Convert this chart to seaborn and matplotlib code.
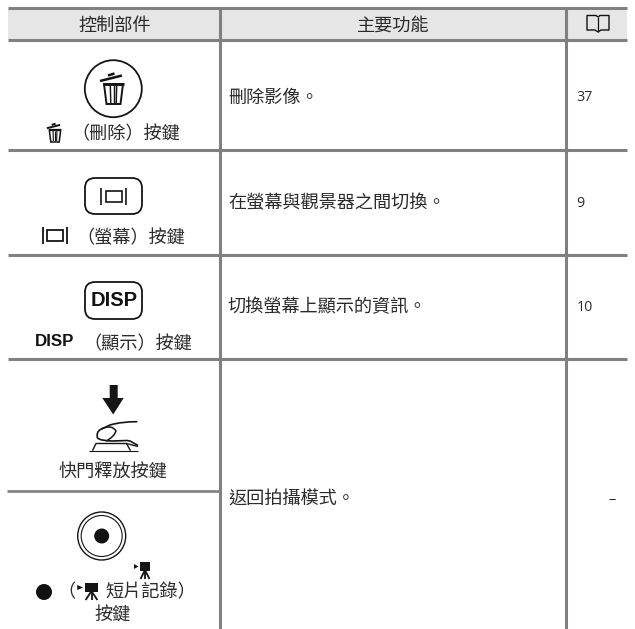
import matplotlib
matplotlib.use("Agg")
import matplotlib.pyplot as plt
from matplotlib.patches import Circle, FancyBboxPatch, Polygon, Rectangle, PathPatch
from matplotlib.path import Path
import numpy as np
import pandas as pd
import seaborn as sns

sns.set_theme(style="white")
plt.rcParams['font.family'] = ['Noto Sans CJK TC', 'DejaVu Sans']

# ---- content ----
headers = ["控制部件", "主要功能"]
control_labels = ["（刪除）按鍵", "（螢幕）按鍵", "（顯示）按鍵", "快門釋放按鍵", "短片記錄）", "按鍵"]
functions = ["刪除影像。", "在螢幕與觀景器之間切換。", "切換螢幕上顯示的資訊。", "返回拍攝模式。"]
pages = ["37", "9", "10", "–"]

# ---- layout ----
W, H = 635, 629
L, C1, C2, R = 8, 219.5, 566, 627
TOP, HEAD = 8, 40
ROWS = [150, 255, 359]
SUB = 490.5
GRAY = "#808080"
INK = "#151515"
TXT = "#2b2b2b"
FS = 13.1

fig = plt.figure(figsize=(W / 100, H / 100), dpi=100, facecolor="white")
ax = fig.add_axes([0, 0, 1, 1])
ax.set_xlim(0, W)
ax.set_ylim(H, 0)
ax.axis("off")

ax.add_patch(Rectangle((L, TOP), R - L, HEAD - TOP, fc="#e6e6e6", ec="none", zorder=0))

rules = []
for i, (x0, y0, x1, y1) in enumerate(
    [(L, TOP, R, TOP), (L, HEAD, R, HEAD)] + [(L, y, R, y) for y in ROWS]
    + [(C1, TOP, C1, H), (C2, TOP, C2, H)]):
    rules += [dict(u=i, x=x0, y=y0), dict(u=i, x=x1, y=y1)]
sns.lineplot(data=pd.DataFrame(rules), x="x", y="y", units="u", estimator=None, sort=False,
             color=GRAY, lw=2.2, legend=False, ax=ax, solid_capstyle="butt")
sns.lineplot(x=[7, C1], y=[SUB, SUB], color=GRAY, lw=1.9, legend=False, ax=ax, errorbar=None,
             solid_capstyle="butt")
ax.set_xlim(0, W)
ax.set_ylim(H, 0)
ax.axis("off")


def txt(x, y, s, ha="center", fs=FS, dy=3, **kw):
    kw.setdefault("color", TXT)
    kw.setdefault("fontweight", "light")
    ax.text(x, y + dy, s, ha=ha, va="center", fontsize=fs, **kw)


def line(xs, ys, lw=1.1, color=INK, **kw):
    ax.plot(xs, ys, color=color, lw=lw, solid_capstyle=kw.pop("cap", "butt"), **kw)


def trash(cx, cy, s, lw):
    """Trash icon: cy is the top of the can body."""
    top, bot = cy, cy + 20 * s
    ax.add_patch(Polygon([(cx - 9.5 * s, top), (cx + 9.5 * s, top), (cx + 7 * s, bot), (cx - 7 * s, bot)],
                         closed=True, fc="white", ec=INK, lw=lw, joinstyle="miter"))
    line([cx - 10.5 * s, cx + 10.5 * s], [top, top], lw=lw * 1.5)
    for d in (-3.2, 0, 3.2):
        line([cx + d * s, cx + d * s * 0.85], [top + 1, bot - 1], lw=lw * 0.75)
    line([cx - 13.5 * s, cx + 8.5 * s], [cy - 3 * s, cy - 8.5 * s], lw=lw * 1.3)
    line([cx - 5.5 * s, cx + 1 * s], [cy - 8.5 * s, cy - 10.5 * s], lw=lw * 1.3)


def screen(cx, cy, s, lw):
    for d in (-12.5, 12.5):
        line([cx + d * s, cx + d * s], [cy - 8.5 * s, cy + 8.5 * s], lw=lw)
    ax.add_patch(Rectangle((cx - 8 * s, cy - 5.7 * s), 16 * s, 11.4 * s, fc="none", ec=INK, lw=lw))


def rounded(x0, y0, x1, y1):
    ax.add_patch(FancyBboxPatch((x0 + 10, y0 + 10), x1 - x0 - 20, y1 - y0 - 20,
                                boxstyle="round,pad=10,rounding_size=10",
                                fc="none", ec=INK, lw=1.3))


def movie(cx, top, sx):
    """Movie camera icon on a tripod; top is the upper edge of the camera body."""
    ax.add_patch(Rectangle((cx - 5 * sx, top), 10 * sx, 9, fc=INK, ec="none"))
    ax.add_patch(Polygon([(cx - 11 * sx, top + 2), (cx - 6.5 * sx, top + 4.5), (cx - 11 * sx, top + 7)],
                         fc=INK, ec="none"))
    for d in (-4.5, 0, 4.5):
        line([cx, cx + d * sx], [top + 8, top + 17], lw=1.3)


# header
txt((L + C1) / 2 + 1, 23, headers[0])
txt(393, 23, headers[1])
# book icon
for side in (-1, 1):
    xs = [598, 598 + side * 2, 598 + side * 11, 598 + side * 11, 598 + side * 3, 598]
    ys = [17, 15.5, 15.5, 30, 30, 32]
    line(xs, ys, lw=1.0, color="#111111")
line([598, 598], [17, 32], lw=0.9, color="#111111")

# row 1: delete
ax.add_patch(Circle((113.3, 88.7), 28.5, fc="none", ec=INK, lw=1.3))
trash(113.5, 84, 1.0, 1.4)
trash(55, 130, 0.6, 1.1)
txt(71, 131, control_labels[0], ha="left")

# row 2: monitor
rounded(85, 178, 142, 214)
screen(113.5, 196.5, 1.0, 1.2)
screen(55, 235.5, 0.95, 1.3)
txt(76, 235, control_labels[1], ha="left")

# row 3: DISP
rounded(85, 282, 142, 319)
ax.text(114, 301, "DISP", ha="center", va="center", fontsize=14.5, fontweight="bold",
        family="Liberation Sans", color="#111111")
ax.text(54.5, 342, "DISP", ha="center", va="center", fontsize=12.2, fontweight="bold",
        family="Liberation Sans", color="#111111")
txt(83, 341, control_labels[2], ha="left")

# row 4: shutter
ax.add_patch(Polygon([(109.7, 385), (117.7, 385), (117.7, 398), (123.7, 398), (113.2, 414.5), (102.3, 398), (109.7, 398)],
                     fc=INK, ec="none"))
finger = Path([(137.3, 421.7), (122, 421.5), (110, 425), (100.5, 429.5),
               (96, 432), (97.5, 438), (101, 441), (113, 441), (127, 440.5), (130, 441),
               (138, 445.5)],
              [Path.MOVETO, Path.CURVE3, Path.CURVE3, Path.LINETO,
               Path.CURVE3, Path.CURVE3, Path.CURVE3, Path.CURVE3, Path.LINETO, Path.LINETO,
               Path.LINETO])
ax.add_patch(PathPatch(finger, fc="none", ec=INK, lw=1.2))
nail = Path([(101, 429), (112, 424), (116, 431), (114, 437), (106, 441)],
            [Path.MOVETO, Path.CURVE3, Path.CURVE3, Path.CURVE3, Path.CURVE3])
ax.add_patch(PathPatch(nail, fc="none", ec=INK, lw=1.1))
line([92.5, 96, 126.5, 130.5], [450.7, 443.5, 443.5, 450.7], lw=1.0)
line([126.5, 138], [443.5, 446.5], lw=1.0)
line([88.5, 138], [450.7, 450.7], lw=0.8)
txt(113, 470, control_labels[3])

# row 5: record
ax.add_patch(Circle((101.7, 536), 24, fc="none", ec=INK, lw=1.0))
ax.add_patch(Circle((101.7, 536), 20.5, fc="none", ec=INK, lw=0.8))
ax.add_patch(Circle((101.7, 536), 7.5, fc="#111111", ec="none"))
movie(145, 562, 1.0)
ax.add_patch(Circle((44, 592), 8, fc="#111111", ec="none"))
txt(57, 589.5, "（", ha="left")
movie(91.5, 583, 1.3)
txt(105.5, 589.5, control_labels[4], ha="left")
txt(113, 612.5, control_labels[5])

# function & page columns
rows_y = [94.5, 200.5, 304.5, 497]
for y, f in zip(rows_y, functions):
    txt(228, y, f, ha="left")
for y, p in zip(rows_y[:3], pages[:3]):
    txt(576.5, y, p, ha="left", fs=10.3, family="Open Sans", fontweight="normal")
txt(612, rows_y[3], pages[3], fs=10.3, family="Open Sans", fontweight="normal")

fig.savefig("out.png", dpi=100)
